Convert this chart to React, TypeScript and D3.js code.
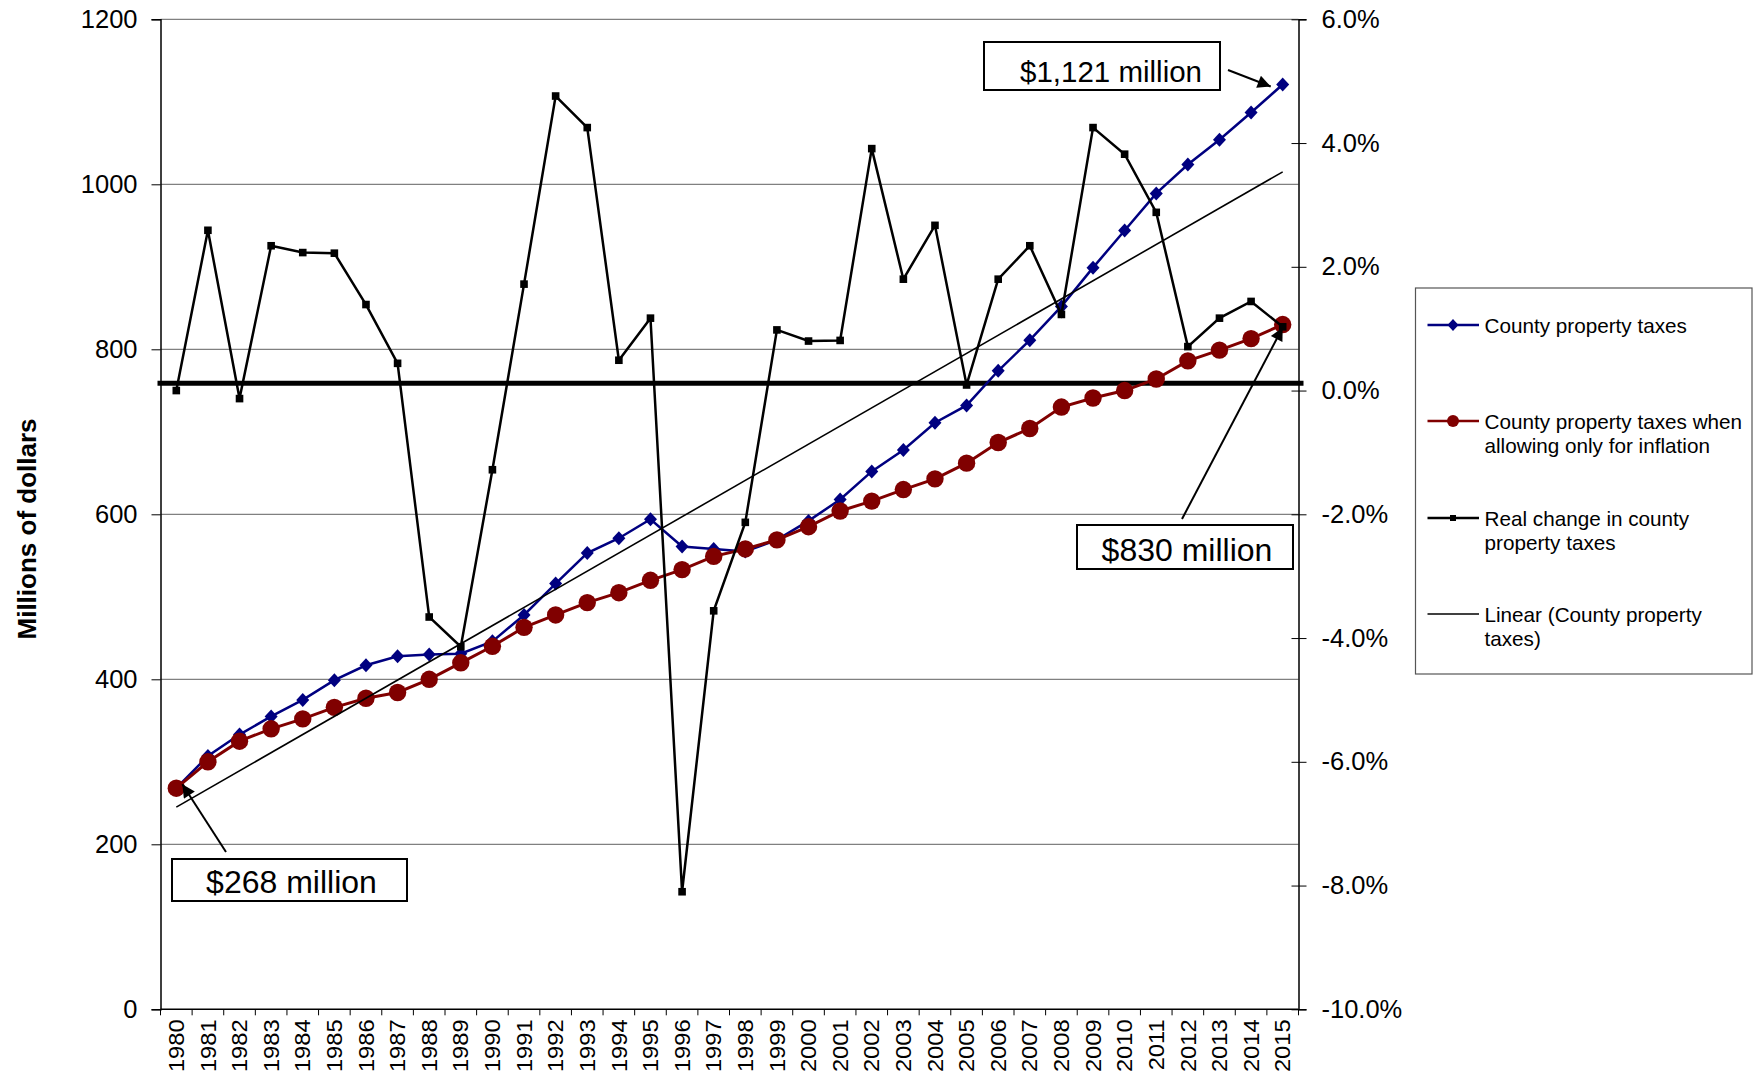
import React, { useRef, useEffect } from 'react';
import * as d3 from 'd3';

const YEARS = [
    '1980', '1981', '1982', '1983', '1984', '1985', '1986', '1987', '1988', '1989',
    '1990', '1991', '1992', '1993', '1994', '1995', '1996', '1997', '1998', '1999',
    '2000', '2001', '2002', '2003', '2004', '2005', '2006', '2007', '2008', '2009',
    '2010', '2011', '2012', '2013', '2014', '2015'
];

// millions of dollars
const COUNTY_TAXES = [
    268, 307, 333, 355, 375, 399, 417, 428, 430, 431,
    446, 478, 516, 553, 571, 594, 561, 558, 555, 569,
    592, 618, 652, 678, 711, 732, 774, 811, 852, 899,
    944, 989, 1024, 1054, 1087, 1121
];

const INFLATION_ONLY = [
    268, 300, 325, 340, 352, 366, 377, 384, 400, 420,
    440, 463, 478, 493, 505, 520, 533, 549, 558, 569,
    585, 604, 616, 630, 643, 662, 687, 704, 730, 741,
    750, 764, 786, 799, 813, 830
];

// percent, right axis
const REAL_CHANGE = [
    0.0, 2.59, -0.13, 2.34, 2.23, 2.22, 1.39, 0.44, -3.66, -4.14,
    -1.28, 1.72, 4.76, 4.25, 0.49, 1.17, -8.10, -3.56, -2.13, 0.98,
    0.80, 0.81, 3.91, 1.80, 2.67, 0.09, 1.80, 2.34, 1.23, 4.25,
    3.82, 2.88, 0.71, 1.17, 1.44, 1.03
];

const LEFT_TICKS = [0, 200, 400, 600, 800, 1000, 1200];
const RIGHT_TICKS = [-10, -8, -6, -4, -2, 0, 2, 4, 6];
const ZERO_LINE = 0.12; // thick reference line, right axis units

const LEGEND = [
    { lines: ['County property taxes'], kind: 'diamond' },
    { lines: ['County property taxes when', 'allowing only for inflation'], kind: 'circle' },
    { lines: ['Real change in county', 'property taxes'], kind: 'square' },
    { lines: ['Linear (County property', 'taxes)'], kind: 'trend' },
];

const BLUE = '#000080';
const RED = '#800000';
const FONT = '"Liberation Sans", Arial, sans-serif';

const W = 1756, H = 1081;
const PLOT = { left: 160.5, right: 1298.5, top: 19.3, bottom: 1009.3 };

const App = () => {
    const svgRef = useRef(null);

    useEffect(() => {
        const svg = d3.select(svgRef.current);
        svg.selectAll('*').remove();

        const x = d3.scaleBand().domain(YEARS).range([PLOT.left, PLOT.right]).padding(0);
        const cx = (yr) => x(yr) + x.bandwidth() / 2;
        const yL = d3.scaleLinear().domain([0, 1200]).range([PLOT.bottom, PLOT.top]);
        const yR = d3.scaleLinear().domain([-10, 6]).range([PLOT.bottom, PLOT.top]);

        const defs = svg.append('defs');
        defs.append('marker')
            .attr('id', 'arrow').attr('viewBox', '0 0 10 10')
            .attr('refX', 10).attr('refY', 5)
            .attr('markerWidth', 17).attr('markerHeight', 13)
            .attr('markerUnits', 'userSpaceOnUse')
            .attr('orient', 'auto')
            .append('path').attr('d', 'M0,0 L10,5 L0,10 Z').attr('fill', '#000');

        // Grid lines
        svg.append('g').selectAll('line').data(LEFT_TICKS.filter(t => t > 0)).enter().append('line')
            .attr('x1', PLOT.left).attr('x2', PLOT.right)
            .attr('y1', d => yL(d)).attr('y2', d => yL(d))
            .attr('stroke', '#808080').attr('stroke-width', 1.2);

        // Left axis
        const gl = svg.append('g').attr('transform', `translate(${PLOT.left},0)`)
            .call(d3.axisLeft(yL).tickValues(LEFT_TICKS).tickSize(9).tickPadding(14).tickFormat(d3.format('d')));
        gl.select('.domain').attr('stroke', '#000').attr('stroke-width', 1.5);
        gl.selectAll('.tick line').attr('stroke', '#000');
        gl.selectAll('.tick text').attr('font-family', FONT).attr('font-size', 25.5).attr('fill', '#000');

        // Right axis (hyphen minus, as in the original)
        const pct = (d) => (d < 0 ? '-' : '') + d3.format('.1f')(Math.abs(d)) + '%';
        const gr = svg.append('g').attr('transform', `translate(${PLOT.right},0)`)
            .call(d3.axisRight(yR).tickValues(RIGHT_TICKS).tickSize(8).tickPadding(15).tickFormat(pct));
        gr.select('.domain').attr('stroke', '#000').attr('stroke-width', 1.5);
        gr.selectAll('.tick line').attr('stroke', '#000').attr('x1', -7);
        gr.selectAll('.tick text').attr('font-family', FONT).attr('font-size', 25.5).attr('fill', '#000');

        // Bottom axis
        const gb = svg.append('g').attr('transform', `translate(0,${PLOT.bottom})`);
        gb.append('line').attr('x1', PLOT.left).attr('x2', PLOT.right)
            .attr('stroke', '#000').attr('stroke-width', 1.5);
        const edges = YEARS.map(y => x(y)).concat([PLOT.right]);
        gb.selectAll('.tk').data(edges).enter().append('line')
            .attr('x1', d => d).attr('x2', d => d).attr('y1', 0).attr('y2', 6)
            .attr('stroke', '#000');
        gb.selectAll('.yr').data(YEARS).enter().append('text')
            .attr('transform', d => `translate(${cx(d)},10) rotate(-90) scale(1.08,1)`)
            .attr('text-anchor', 'end').attr('dominant-baseline', 'central')
            .attr('font-family', FONT).attr('font-size', 22).text(d => d);

        // Y title
        svg.append('text')
            .attr('transform', `translate(35.5,529) rotate(-90)`)
            .attr('text-anchor', 'middle')
            .attr('font-family', FONT).attr('font-size', 26).attr('font-weight', 'bold')
            .text('Millions of dollars');

        // Zero reference line
        svg.append('line')
            .attr('x1', PLOT.left - 3).attr('x2', PLOT.right + 5)
            .attr('y1', yR(ZERO_LINE)).attr('y2', yR(ZERO_LINE))
            .attr('stroke', '#000').attr('stroke-width', 5);

        // County property taxes
        const valLine = d3.line().x((_, i) => cx(YEARS[i])).y(d => yL(d));
        svg.append('path').attr('d', valLine(COUNTY_TAXES))
            .attr('fill', 'none').attr('stroke', BLUE).attr('stroke-width', 2.5);
        svg.append('g').selectAll('path').data(COUNTY_TAXES).enter().append('path')
            .attr('d', 'M0,-7 L6.5,0 L0,7 L-6.5,0 Z')
            .attr('transform', (d, i) => `translate(${cx(YEARS[i])},${yL(d)})`)
            .attr('fill', BLUE);

        // Inflation only
        svg.append('path').attr('d', valLine(INFLATION_ONLY))
            .attr('fill', 'none').attr('stroke', RED).attr('stroke-width', 3);
        svg.append('g').selectAll('circle').data(INFLATION_ONLY).enter().append('circle')
            .attr('cx', (_, i) => cx(YEARS[i])).attr('cy', d => yL(d)).attr('r', 8.7)
            .attr('fill', RED);

        // Linear trend of county taxes
        const idx = COUNTY_TAXES.map((_, i) => i);
        const mx = d3.mean(idx), my = d3.mean(COUNTY_TAXES);
        const slope = d3.sum(idx, i => (i - mx) * (COUNTY_TAXES[i] - my)) / d3.sum(idx, i => (i - mx) ** 2);
        const icpt = my - slope * mx;
        const last = YEARS.length - 1;
        svg.append('line')
            .attr('x1', cx(YEARS[0])).attr('y1', yL(icpt))
            .attr('x2', cx(YEARS[last])).attr('y2', yL(icpt + slope * last))
            .attr('stroke', '#000').attr('stroke-width', 1.6);

        // Real change
        const rLine = d3.line().x((_, i) => cx(YEARS[i])).y(d => yR(d));
        svg.append('path').attr('d', rLine(REAL_CHANGE))
            .attr('fill', 'none').attr('stroke', '#000').attr('stroke-width', 2.5);
        svg.append('g').selectAll('rect').data(REAL_CHANGE).enter().append('rect')
            .attr('x', (_, i) => cx(YEARS[i]) - 3.8).attr('y', d => yR(d) - 3.8)
            .attr('width', 7.6).attr('height', 7.6).attr('fill', '#000');

        // Callouts
        const callout = (box, label, size, dx, from, to) => {
            svg.append('line')
                .attr('x1', from[0]).attr('y1', from[1]).attr('x2', to[0]).attr('y2', to[1])
                .attr('stroke', '#000').attr('stroke-width', 2).attr('marker-end', 'url(#arrow)');
            svg.append('rect')
                .attr('x', box[0]).attr('y', box[1]).attr('width', box[2]).attr('height', box[3])
                .attr('fill', '#fff').attr('stroke', '#000').attr('stroke-width', 2);
            svg.append('text')
                .attr('x', box[0] + box[2] / 2 + dx).attr('y', box[1] + box[3] - 8)
                .attr('text-anchor', 'middle')
                .attr('font-family', FONT).attr('font-size', size).text(label);
        };
        const y15 = YEARS[last];
        callout([984, 42, 236, 48], '$1,121 million', 29.5, 9, [1228, 70], [cx(y15) - 12, yL(COUNTY_TAXES[last]) + 2]);
        callout([1077, 525, 216, 44], '$830 million', 32, 2, [1182, 519], [cx(y15), yL(INFLATION_ONLY[last]) + 3]);
        callout([172, 859, 235, 42], '$268 million', 32, 2, [226, 852], [cx(YEARS[0]) + 6, yL(COUNTY_TAXES[0]) - 4]);

        // Legend
        const lg = svg.append('g');
        lg.append('rect').attr('x', 1415.5).attr('y', 288).attr('width', 336.5).attr('height', 386)
            .attr('fill', '#fff').attr('stroke', '#555').attr('stroke-width', 1.2);
        const rowY = [325, 421, 518, 614];
        LEGEND.forEach((e, i) => {
            const y0 = rowY[i];
            const g = lg.append('g');
            const col = e.kind === 'diamond' ? BLUE : e.kind === 'circle' ? RED : '#000';
            g.append('line').attr('x1', 1427.5).attr('x2', 1479).attr('y1', y0).attr('y2', y0)
                .attr('stroke', col).attr('stroke-width', e.kind === 'trend' ? 1.6 : 2.5);
            if (e.kind === 'diamond') g.append('path').attr('d', 'M0,-6 L5.5,0 L0,6 L-5.5,0 Z')
                .attr('transform', `translate(1453,${y0})`).attr('fill', BLUE);
            if (e.kind === 'circle') g.append('circle').attr('cx', 1453).attr('cy', y0).attr('r', 6).attr('fill', RED);
            if (e.kind === 'square') g.append('rect').attr('x', 1450).attr('y', y0 - 3).attr('width', 6).attr('height', 6);
            e.lines.forEach((t, j) => {
                g.append('text').attr('x', 1484.5).attr('y', y0 + j * 24)
                    .attr('dominant-baseline', 'central')
                    .attr('font-family', FONT).attr('font-size', 20.7).text(t);
            });
        });
    }, []);

    return (
        <svg ref={svgRef} width={W} height={H}
            style={{ position: 'absolute', left: 0, top: 0, background: '#fff' }} />
    );
};

export default App;
